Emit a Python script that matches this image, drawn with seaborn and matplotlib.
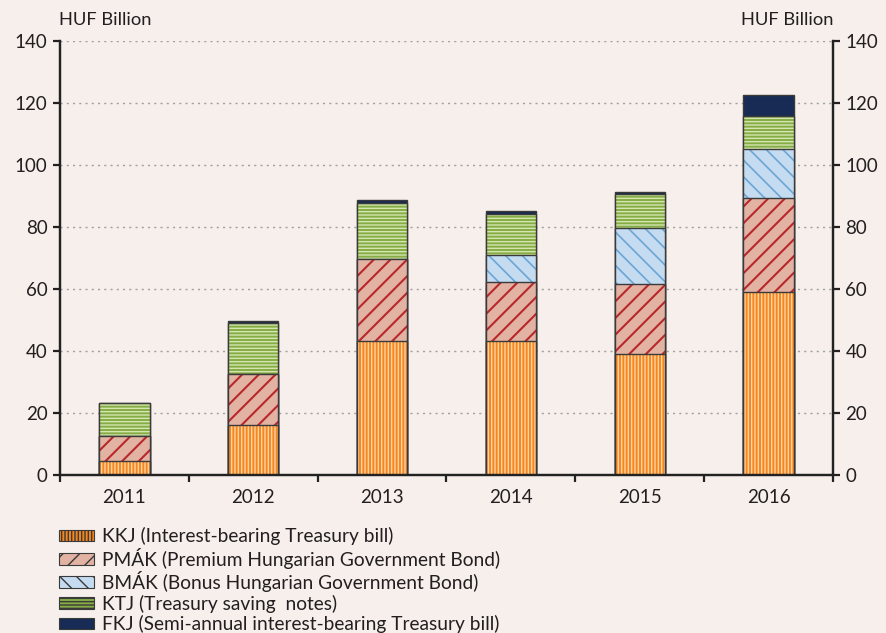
import numpy as np
import pandas as pd
import seaborn as sns
import matplotlib.pyplot as plt
from matplotlib.patches import Patch

# values (HUF billion)
YEARS = ['2011', '2012', '2013', '2014', '2015', '2016']
KKJ = [4.5, 16.1, 43.2, 43.2, 39.0, 59.0]
PMAK = [8.1, 16.5, 26.5, 19.1, 22.6, 30.4]
BMAK = [0.0, 0.0, 0.0, 8.7, 18.1, 15.8]
KTJ = [10.6, 16.4, 18.0, 13.2, 10.9, 10.6]
FKJ = [0.0, 0.7, 1.0, 1.0, 0.7, 6.8]

LABELS = ['KKJ (Interest-bearing Treasury bill)',
          'PMÁK (Premium Hungarian Government Bond)',
          'BMÁK (Bonus Hungarian Government Bond)',
          'KTJ (Treasury saving  notes)',
          'FKJ (Semi-annual interest-bearing Treasury bill)']

BG = '#f6efeb'
TXT = '#231f20'
# (fill colour, hatch colour, hatch, hatch line width)
STYLES = [('#f5871f', '#fcd3a6', '|||||', 1.0),
          ('#e2b2a2', '#b8282d', '//', 1.5),
          ('#c4dbf0', '#6ba6d6', '\\\\', 1.2),
          ('#86ad45', '#d5e5b0', '-----', 1.0),
          ('#172b55', '#172b55', '', 1.0)]


def style_patch(p, fill, hcol, hatch, hlw):
    p.set_facecolor(fill)
    p.set_edgecolor(hcol)
    p.set_hatch(hatch)
    p.set_linewidth(0)
    if hasattr(p, 'set_hatch_linewidth'):
        p.set_hatch_linewidth(hlw)


sns.set_style('white')
plt.rcParams['font.family'] = ['Lato', 'DejaVu Sans']
plt.rcParams['hatch.linewidth'] = 1.0

fig = plt.figure(figsize=(8.87, 6.33), dpi=100, facecolor=BG)
ax = fig.add_axes([60 / 887, 1 - 475 / 633, 773 / 887, 434 / 633])
ax.set_facecolor(BG)

series = [KKJ, PMAK, BMAK, KTJ, FKJ]
cum = np.cumsum(np.array(series), axis=0)
df = pd.DataFrame({'year': YEARS})

# draw from the top segment down so each lower bar covers the one above
for i in range(len(series) - 1, -1, -1):
    fill, hcol, hatch, hlw = STYLES[i]
    df['val'] = cum[i]
    n0 = len(ax.patches)
    with plt.rc_context({'hatch.linewidth': hlw}):
        sns.barplot(data=df, x='year', y='val', order=YEARS, color=fill,
                    saturation=1, width=0.39, errorbar=None, ax=ax)
    for p in ax.patches[n0:]:
        style_patch(p, fill, hcol, hatch, hlw)
    n1 = len(ax.patches)
    sns.barplot(data=df, x='year', y='val', order=YEARS, color='#333333',
                saturation=1, width=0.39, errorbar=None, fill=False, ax=ax)
    for p in ax.patches[n1:]:
        p.set_facecolor('none')
        p.set_edgecolor('#3a3a3a')
        p.set_linewidth(1.0)
        if p.get_height() <= 0:
            p.set_visible(False)

ax.set_xlim(-0.5, 5.5)
ax.set_ylim(0, 140)
ax.set_yticks(range(0, 141, 20))
ax.set_xlabel('')
ax.set_ylabel('')
for y in range(20, 141, 20):
    ax.axhline(y, color='#a0a0a0', lw=1.0, ls=(0, (1.5, 3)), zorder=0)

ax2 = ax.twinx()
ax2.set_ylim(0, 140)
ax2.set_yticks(range(0, 141, 20))

for a in (ax, ax2):
    for s in ('left', 'right', 'bottom'):
        a.spines[s].set_color('#222222')
        a.spines[s].set_linewidth(1.6)
    a.spines['top'].set_visible(False)
    a.tick_params(axis='y', direction='out', length=5, width=1.6,
                  colors=TXT, labelsize=13.5, pad=4)

ax.tick_params(axis='y', left=True, right=False)
ax2.tick_params(axis='y', left=False, right=True)
ax.set_xticks(np.arange(-0.5, 5.6, 1), minor=True)
ax.tick_params(axis='x', which='major', length=0, labelsize=13.5,
               labelcolor=TXT, pad=10)
ax.tick_params(axis='x', which='minor', bottom=True, direction='out',
               length=5, width=1.6, color='#222222')

fig.text(59 / 887, 1 - 20 / 633, 'HUF Billion', fontsize=13.2,
         color=TXT, ha='left', va='center')
fig.text(834 / 887, 1 - 20 / 633, 'HUF Billion', fontsize=13.2,
         color=TXT, ha='right', va='center')

handles = []
for fill, hcol, hatch, hlw in STYLES:
    h = Patch(facecolor=fill, edgecolor=hcol, hatch=hatch, linewidth=0)
    handles.append(h)
leg = fig.legend(handles, LABELS, loc='upper left',
                 bbox_to_anchor=(59 / 887, 1 - 527 / 633), frameon=False,
                 fontsize=13.8, handlelength=1.8, handleheight=0.55,
                 handletextpad=0.45, labelspacing=0.13, borderpad=0,
                 borderaxespad=0, labelcolor=TXT)
for h in leg.legend_handles:
    h.set_edgecolor('#3a3a3a')
    h.set_linewidth(0.8)

fig.savefig('out.png', dpi=100, facecolor=BG)
